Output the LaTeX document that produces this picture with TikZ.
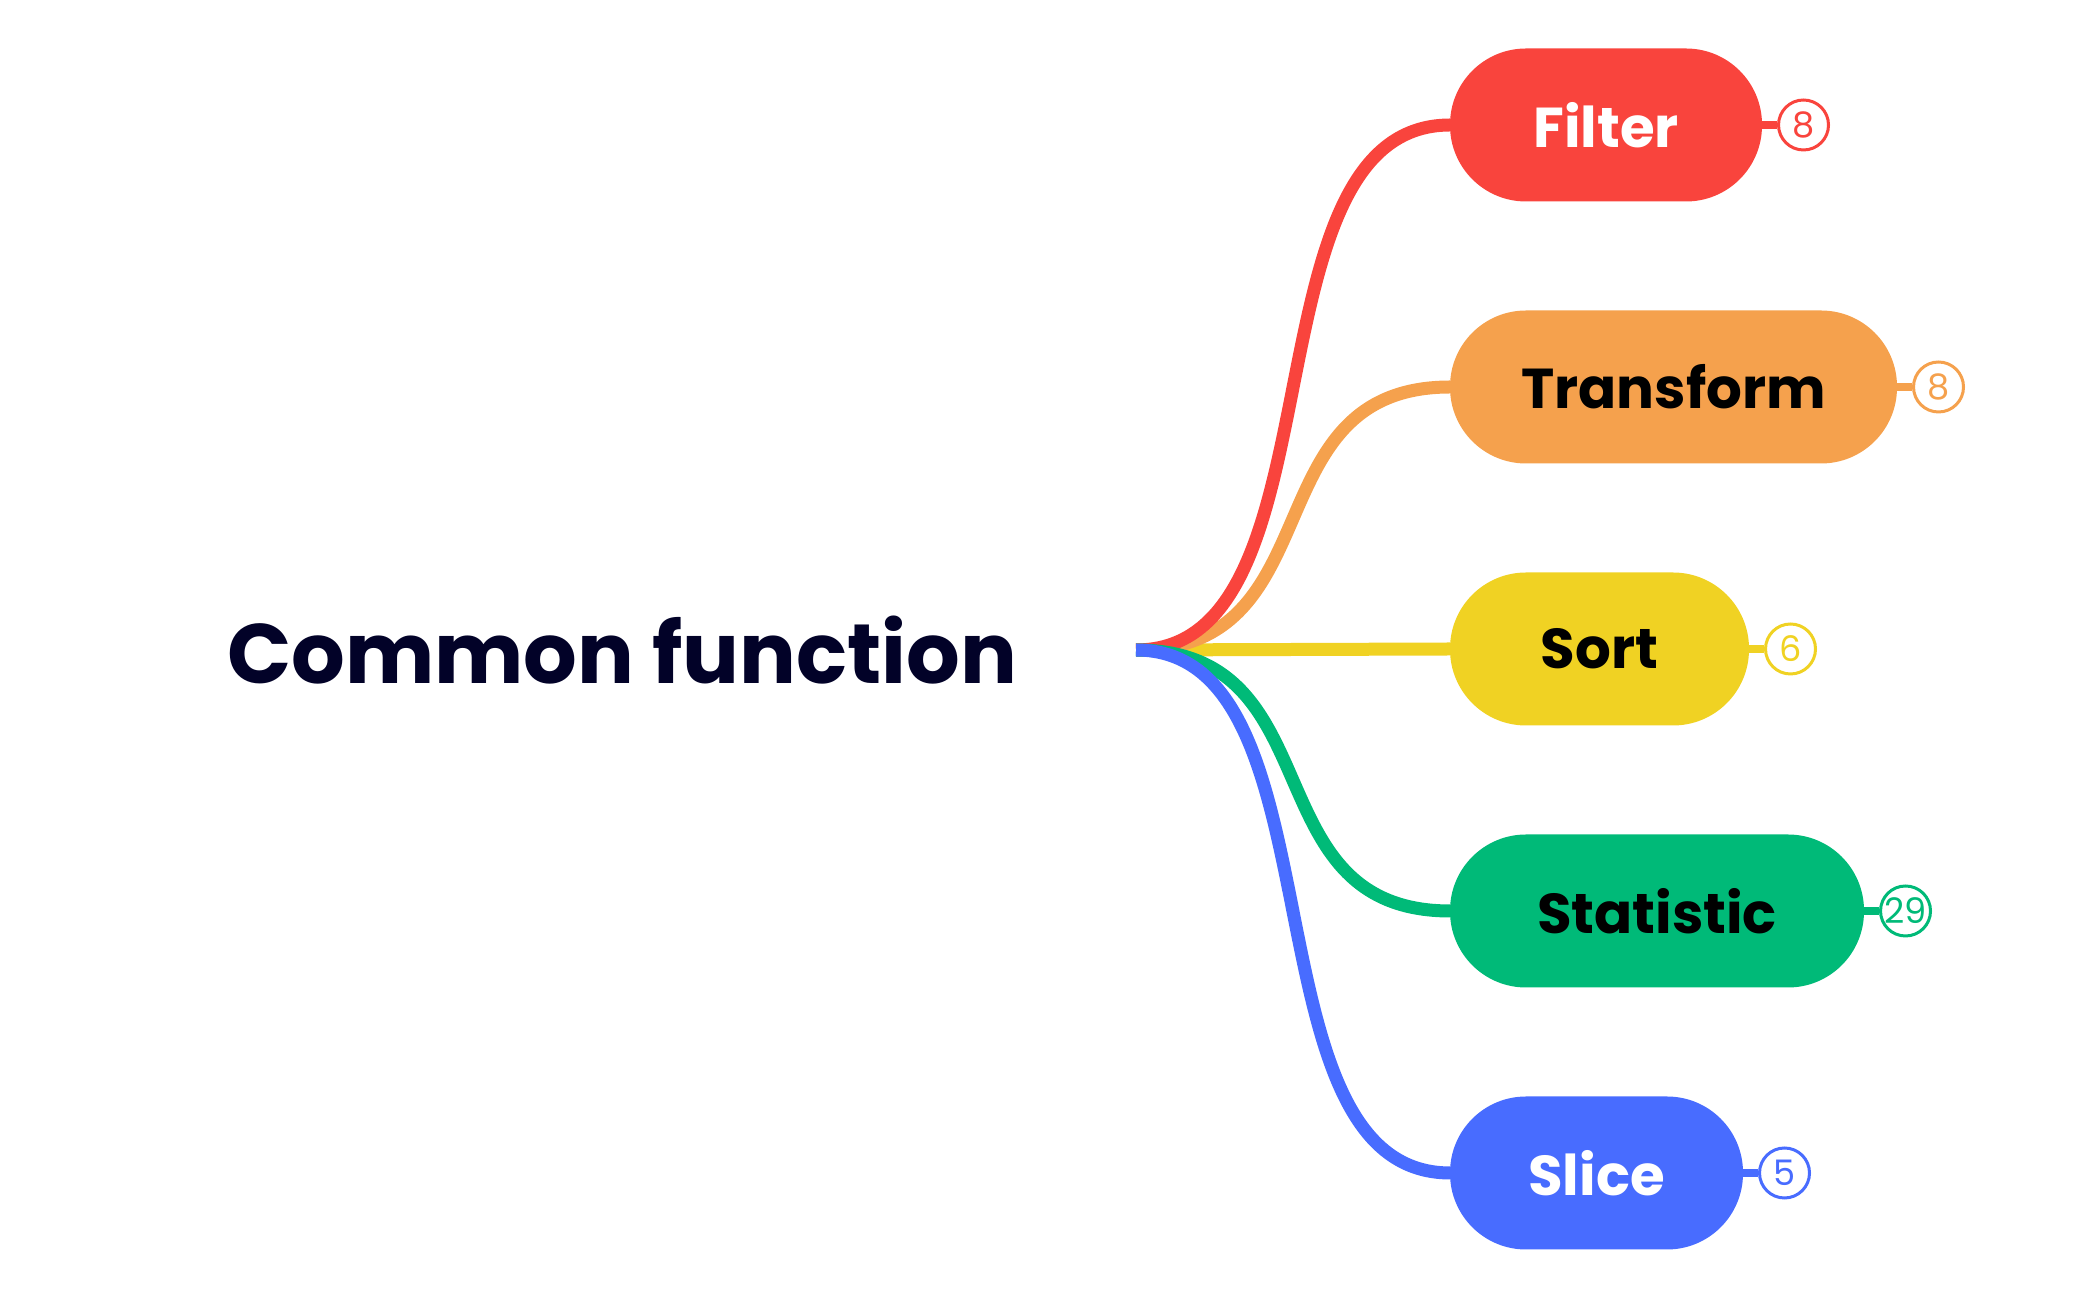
\documentclass[tikz,border=0pt]{standalone}
\usepackage{fontspec}
\setmainfont{Poppins}
\usetikzlibrary{positioning}
\definecolor{mapRed}{RGB}{249,68,61}
\definecolor{mapOrange}{RGB}{245,161,77}
\definecolor{mapYellow}{RGB}{240,210,35}
\definecolor{mapGreen}{RGB}{0,186,120}
\definecolor{mapBlue}{RGB}{72,108,255}
\definecolor{mapInk}{RGB}{2,2,40}

\begin{document}
\begin{tikzpicture}[x=0.1mm,y=-0.1mm,
    topic/.style={fill=#1,draw=#1,line width=1mm,rounded corners=7.1mm,minimum height=14.3mm,font=\fontsize{16}{19}\selectfont\bfseries,anchor=west},
    badge/.style={circle,draw=#1,fill=white,line width=0.3mm,text=#1,minimum size=5mm,inner sep=0pt,font=\fontsize{10}{12}\selectfont},
    branch/.style={draw=#1,line width=1.3mm},
    stub/.style={draw=#1,line width=0.8mm}]
  \useasboundingbox (0,0) rectangle (2100,1299);
  \node[text=mapInk,font=\fontsize{24}{28}\selectfont\bfseries] (root) at (622,650) {Common function};
  \coordinate (hub) at (1136,650);
  % topics
  \node[topic=mapRed,text=white,minimum width=30.2mm] (filter) at (1450,125) {Filter};
  \node[topic=mapOrange,text=black,minimum width=43.7mm,below=10.9mm of filter.south west,anchor=north west] (transform) {Transform};
  \node[topic=mapYellow,text=black,minimum width=28.9mm,below=10.9mm of transform.south west,anchor=north west] (sort) {Sort};
  \node[topic=mapGreen,text=black,minimum width=40.4mm,below=10.9mm of sort.south west,anchor=north west] (statistic) {Statistic};
  \node[topic=mapBlue,text=white,minimum width=28.3mm,below=10.9mm of statistic.south west,anchor=north west] (slice) {Slice};
  % counts
  \node[badge=mapRed,right=1.5mm of filter] (filterCount) {8};
  \node[badge=mapOrange,right=1.5mm of transform] (transformCount) {8};
  \node[badge=mapYellow,right=1.5mm of sort] (sortCount) {6};
  \node[badge=mapGreen,right=1.5mm of statistic] (statisticCount) {29};
  \node[badge=mapBlue,right=1.5mm of slice] (sliceCount) {5};
  \draw[stub=mapRed] (filter.east) -- (filterCount.west);
  \draw[stub=mapOrange] (transform.east) -- (transformCount.west);
  \draw[stub=mapYellow] (sort.east) -- (sortCount.west);
  \draw[stub=mapGreen] (statistic.east) -- (statisticCount.west);
  \draw[stub=mapBlue] (slice.east) -- (sliceCount.west);
  % branches
  \draw[branch=mapYellow] (hub) -- (sort.west);
  \draw[branch=mapOrange] (hub) .. controls +(200,0) and +(-200,0) .. (transform.west);
  \draw[branch=mapRed] (hub) .. controls +(210,0) and +(-210,0) .. (filter.west);
  \draw[branch=mapGreen] (hub) .. controls +(200,0) and +(-200,0) .. (statistic.west);
  \draw[branch=mapBlue] (hub) .. controls +(210,0) and +(-210,0) .. (slice.west);
\end{tikzpicture}
\end{document}
